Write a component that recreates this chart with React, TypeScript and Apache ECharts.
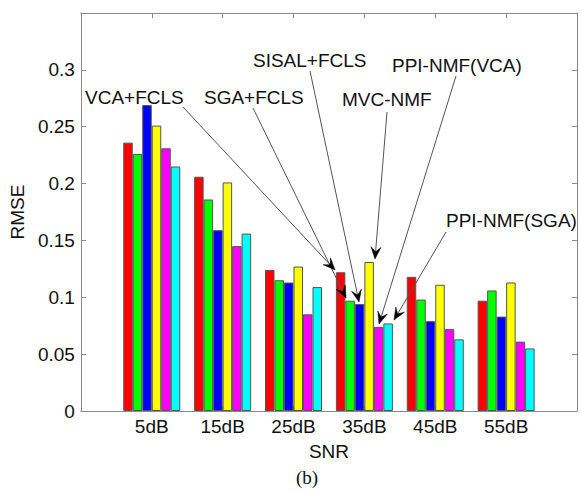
import React, { useEffect, useRef } from "react";
import * as echarts from "echarts";

const categories = ["5dB", "15dB", "25dB", "35dB", "45dB", "55dB"];
const seriesNames = ["VCA+FCLS", "SGA+FCLS", "SISAL+FCLS", "MVC-NMF", "PPI-NMF(VCA)", "PPI-NMF(SGA)"];
const seriesColors = ["#ff0000", "#00ff00", "#0000ff", "#ffff00", "#ff00ff", "#00ffff"];
const vcaFcls = [0.236, 0.206, 0.124, 0.122, 0.118, 0.097];
const sgaFcls = [0.226, 0.186, 0.115, 0.097, 0.098, 0.106];
const sisalFcls = [0.269, 0.159, 0.113, 0.094, 0.079, 0.083];
const mvcNmf = [0.251, 0.201, 0.127, 0.131, 0.111, 0.113];
const ppiNmfVca = [0.231, 0.145, 0.085, 0.074, 0.072, 0.061];
const ppiNmfSga = [0.215, 0.156, 0.109, 0.077, 0.063, 0.055];
const seriesValues = [vcaFcls, sgaFcls, sisalFcls, mvcNmf, ppiNmfVca, ppiNmfSga];

const FONT = "Liberation Sans, Arial, Helvetica, sans-serif";

// annotation text (left x, center y) and arrow start/end points (px)
const annotations = [
  { text: "VCA+FCLS", x: 85, y: 97, from: [183, 107], to: [335, 270] },
  { text: "SGA+FCLS", x: 204, y: 97, from: [253, 108], to: [346, 298] },
  { text: "SISAL+FCLS", x: 253, y: 60, from: [310, 71], to: [359, 302] },
  { text: "MVC-NMF", x: 342, y: 99, from: [387, 112], to: [375, 259] },
  { text: "PPI-NMF(VCA)", x: 392, y: 65, from: [456, 76], to: [379, 324] },
  { text: "PPI-NMF(SGA)", x: 446, y: 220, from: [446, 232], to: [394, 320] },
];

function arrowGraphics(from: number[], to: number[]) {
  const [x1, y1] = from;
  const [x2, y2] = to;
  const dx = x2 - x1;
  const dy = y2 - y1;
  const len = Math.sqrt(dx * dx + dy * dy);
  const ux = dx / len;
  const uy = dy / len;
  const nx = -uy;
  const ny = ux;
  const L = 12;
  const W = 5;
  const notch = 0.6 * L;
  const head = [
    [x2, y2],
    [x2 - ux * L + nx * W, y2 - uy * L + ny * W],
    [x2 - ux * notch, y2 - uy * notch],
    [x2 - ux * L - nx * W, y2 - uy * L - ny * W],
  ];
  return [
    {
      type: "line",
      shape: { x1, y1, x2: x2 - ux * notch, y2: y2 - uy * notch },
      style: { stroke: "#555", lineWidth: 1 },
      z: 100,
    },
    {
      type: "polygon",
      shape: { points: head },
      style: { fill: "#000", stroke: "#000", lineWidth: 0.5 },
      z: 101,
    },
  ];
}

export default function App() {
  const ref = useRef<HTMLDivElement>(null);
  useEffect(() => {
    if (!ref.current) return;
    const chart = echarts.init(ref.current, undefined, { renderer: "svg" });
    const axisLineColor = "#8a8a8a";
    const graphics: any[] = [];
    annotations.forEach((a) => {
      graphics.push({
        type: "text",
        x: a.x,
        y: a.y,
        style: {
          text: a.text,
          font: `19px ${FONT}`,
          fill: "#111",
          textVerticalAlign: "middle",
          verticalAlign: "middle",
        },
        z: 100,
      });
      arrowGraphics(a.from, a.to).forEach((g) => graphics.push(g));
    });
    graphics.push({
      type: "text",
      x: 307,
      y: 477,
      style: {
        text: "(b)",
        font: "19px Liberation Serif, Times New Roman, serif",
        fill: "#111",
        textAlign: "center",
        textVerticalAlign: "middle",
        verticalAlign: "middle",
      },
    });

    const tickStyle = { show: true, inside: true, length: 5, lineStyle: { color: axisLineColor } };
    const lineStyle = { show: true, onZero: false, lineStyle: { color: axisLineColor, width: 1 } };

    const option: any = {
      animation: false,
      backgroundColor: "#fff",
      grid: { left: 76, right: 2, top: 13, bottom: 80, containLabel: false },
      xAxis: [
        {
          type: "value",
          min: 0,
          max: 7,
          interval: 1,
          name: "SNR",
          nameLocation: "middle",
          nameGap: 31,
          nameTextStyle: { fontFamily: FONT, fontSize: 19, color: "#111" },
          axisLine: lineStyle,
          axisTick: tickStyle,
          axisLabel: {
            fontFamily: FONT,
            fontSize: 19,
            color: "#111",
            margin: 6,
            formatter: (v: number) => categories[v - 1] ?? "",
          },
          splitLine: { show: false },
        },
        {
          type: "value",
          position: "top",
          min: 0,
          max: 7,
          interval: 1,
          axisLine: lineStyle,
          axisTick: tickStyle,
          axisLabel: { show: false },
          splitLine: { show: false },
        },
      ],
      yAxis: [
        {
          type: "value",
          min: 0,
          max: 0.35,
          interval: 0.05,
          name: "RMSE",
          nameLocation: "middle",
          nameGap: 50,
          nameRotate: 90,
          nameTextStyle: { fontFamily: FONT, fontSize: 19, color: "#111" },
          axisLine: lineStyle,
          axisTick: tickStyle,
          axisLabel: {
            fontFamily: FONT,
            fontSize: 19,
            color: "#111",
            margin: 6,
            formatter: (v: number) => (v > 0.32 ? "" : String(+v.toFixed(2))),
          },
          splitLine: { show: false },
        },
        {
          type: "value",
          position: "right",
          min: 0,
          max: 0.35,
          interval: 0.05,
          axisLine: lineStyle,
          axisTick: tickStyle,
          axisLabel: { show: false },
          splitLine: { show: false },
        },
      ],
      series: seriesValues.map((vals, k) => ({
        name: seriesNames[k],
        type: "bar",
        xAxisIndex: 0,
        yAxisIndex: 0,
        barWidth: 9.5,
        barGap: "0%",
        data: vals.map((v, i) => [i + 1, v]),
        itemStyle: { color: seriesColors[k], borderColor: "#555", borderWidth: 1 },
      })),
      graphic: graphics,
    };
    chart.setOption(option);
    return () => chart.dispose();
  }, []);
  return (
    <div
      ref={ref}
      style={{ position: "fixed", left: 0, top: 0, width: 580, height: 491 }}
    />
  );
}
